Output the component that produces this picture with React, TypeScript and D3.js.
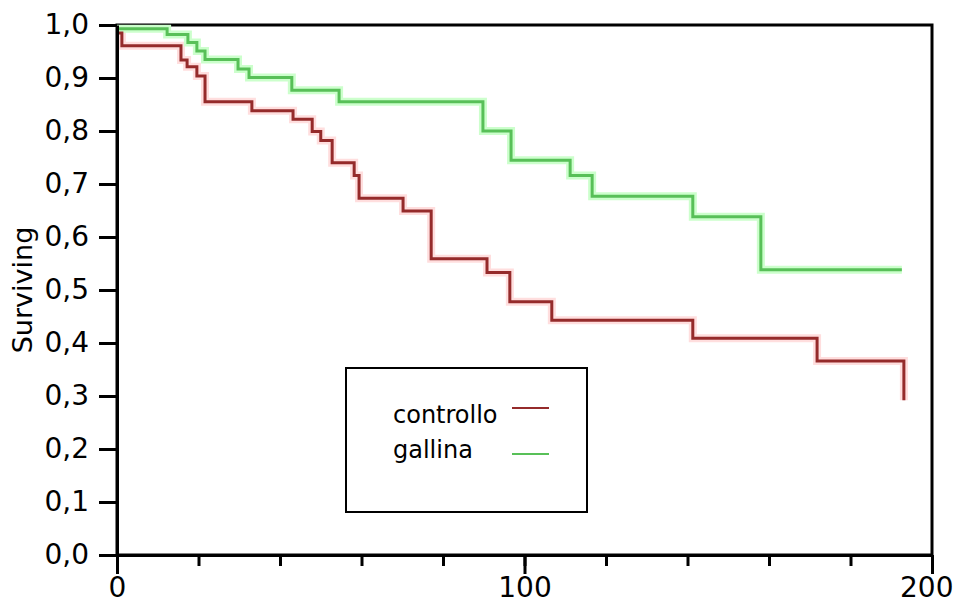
import React, { useEffect, useRef } from 'react';
import * as d3 from 'd3';

// Kaplan-Meier steps (time, survival)
const controlloTimes = [0, 1.2, 15.7, 17.2, 19.6, 21.6, 33.1, 43.2, 47.9, 50.0, 52.8, 58.2, 59.4, 70.2, 77.1, 90.8, 96.4, 106.7, 141.3, 171.8, 193.1];
const controlloSurv = [0.985, 0.961, 0.934, 0.921, 0.904, 0.855, 0.838, 0.822, 0.799, 0.782, 0.740, 0.716, 0.673, 0.649, 0.559, 0.533, 0.478, 0.443, 0.409, 0.366, 0.292];

const gallinaTimes = [0, 12.3, 17.4, 19.6, 21.6, 29.7, 32.4, 42.9, 54.5, 89.8, 96.7, 111.2, 116.6, 141.3, 158.0, 192.6];
const gallinaSurv = [0.993, 0.982, 0.967, 0.951, 0.935, 0.917, 0.901, 0.877, 0.855, 0.800, 0.745, 0.716, 0.677, 0.638, 0.538, 0.538];

const seriesNames = ['controllo', 'gallina'];
const yTicks = d3.range(0, 11).map(i => i / 10);
const xMajorTicks = [0, 100, 200];
const xMinorTicks = d3.range(0, 201, 20);

const SurvivalChart = () => {
  const svgRef = useRef<SVGSVGElement>(null);

  useEffect(() => {
    const width = 955;
    const height = 608;
    const margin = { top: 25, right: 23, bottom: 53, left: 117 };
    const innerW = width - margin.left - margin.right;
    const innerH = height - margin.top - margin.bottom;

    const svg = d3.select(svgRef.current);
    svg.selectAll('*').remove();

    const font = '"DejaVu Sans", sans-serif';
    const fmt = d3.formatLocale({ decimal: ',', thousands: '.', grouping: [3], currency: ['', ''] }).format('.1f');

    const x = d3.scaleLinear().domain([0, 200]).range([0, innerW]);
    const y = d3.scaleLinear().domain([0, 1]).range([innerH, 0]);

    const g = svg.append('g').attr('transform', `translate(${margin.left},${margin.top})`);

    // frame (top + right)
    g.append('rect')
      .attr('x', 0).attr('y', 0)
      .attr('width', innerW).attr('height', innerH)
      .attr('fill', 'none')
      .attr('stroke', '#000')
      .attr('stroke-width', 3);

    // survival curves
    const line = d3.line<[number, number]>()
      .x(d => x(d[0]))
      .y(d => y(d[1]))
      .curve(d3.curveStepAfter);

    const series = [
      { name: seriesNames[0], pts: controlloTimes.map((t, i) => [t, controlloSurv[i]] as [number, number]), color: '#952b2b', glow: '#ffdede' },
      { name: seriesNames[1], pts: gallinaTimes.map((t, i) => [t, gallinaSurv[i]] as [number, number]), color: '#58c058', glow: '#ccffcc' },
    ];

    series.forEach(s => {
      g.append('path')
        .attr('d', line(s.pts))
        .attr('fill', 'none')
        .attr('stroke', s.glow)
        .attr('stroke-width', 8);
    });
    series.forEach(s => {
      g.append('path')
        .attr('d', line(s.pts))
        .attr('fill', 'none')
        .attr('stroke', s.color)
        .attr('stroke-width', 3)
        .attr('stroke-linejoin', 'miter');
    });

    // y axis
    const yAxis = g.append('g')
      .call(d3.axisLeft(y).tickValues(yTicks).tickFormat(d => fmt(d as number)).tickSize(18).tickSizeOuter(0).tickPadding(10));

    // x axis: minor then major ticks
    const xMinor = g.append('g')
      .attr('transform', `translate(0,${innerH})`)
      .call(d3.axisBottom(x).tickValues(xMinorTicks).tickFormat(() => '').tickSize(11).tickSizeOuter(0));
    const xMajor = g.append('g')
      .attr('transform', `translate(0,${innerH})`)
      .call(d3.axisBottom(x).tickValues(xMajorTicks).tickFormat(d3.format('d')).tickSize(19).tickSizeOuter(0).tickPadding(3));

    [yAxis, xMinor, xMajor].forEach(a => {
      a.select('.domain').attr('stroke-width', 3);
      a.selectAll('.tick line').attr('stroke-width', 3);
      a.selectAll('text')
        .attr('font-family', font)
        .attr('font-size', 28)
        .attr('fill', '#000');
    });

    // last x label sits against the right edge
    xMajor.selectAll<SVGTextElement, number>('.tick text')
      .filter(d => d === 200)
      .attr('text-anchor', 'end')
      .attr('x', 21);

    // y axis title
    svg.append('text')
      .attr('transform', `translate(32,${margin.top + y(0.5)}) rotate(-90)`)
      .attr('text-anchor', 'middle')
      .attr('font-family', font)
      .attr('font-size', 27)
      .text('Surviving');

    // legend
    const legend = svg.append('g');
    legend.append('rect')
      .attr('x', 346).attr('y', 368)
      .attr('width', 241).attr('height', 144)
      .attr('fill', '#fff')
      .attr('stroke', '#000')
      .attr('stroke-width', 2);

    series.forEach((s, i) => {
      const ly = 408 + i * 46;
      legend.append('text')
        .attr('x', 393)
        .attr('y', 423 + i * 35)
        .attr('font-family', font)
        .attr('font-size', 24)
        .text(s.name);
      legend.append('line')
        .attr('x1', 512).attr('x2', 549)
        .attr('y1', ly).attr('y2', ly)
        .attr('stroke', s.color)
        .attr('stroke-width', 2);
    });
  }, []);

  return (
    <svg
      ref={svgRef}
      width={955}
      height={608}
      style={{ position: 'absolute', left: 0, top: 0, background: '#fff' }}
    />
  );
};

export default function App() {
  return <SurvivalChart />;
}
